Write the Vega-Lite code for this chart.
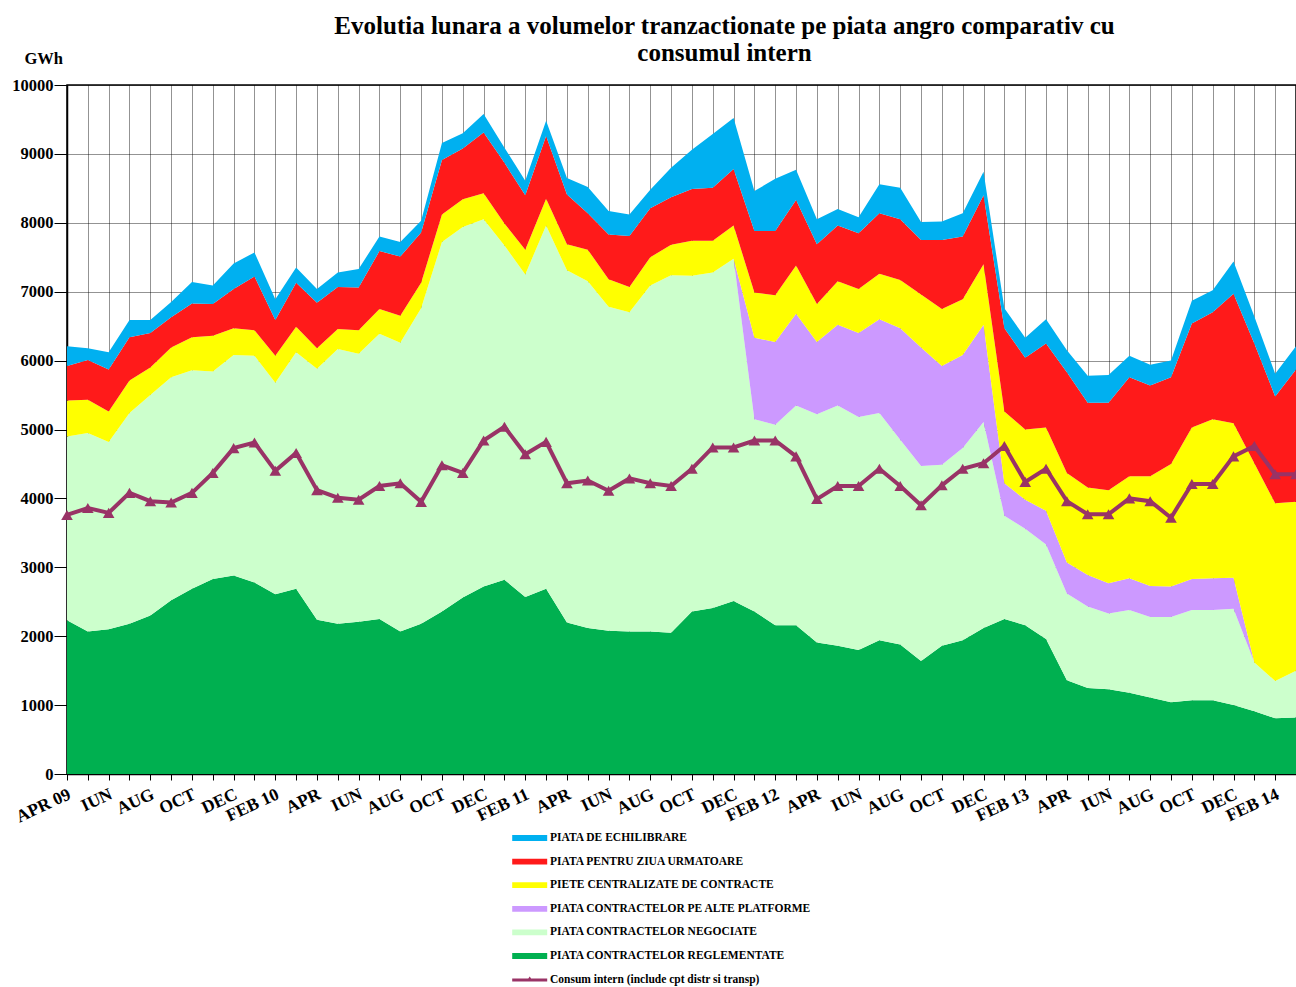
{
  "$schema": "https://vega.github.io/schema/vega-lite/v6.json",
  "width": 1229,
  "height": 689,
  "autosize": "none",
  "padding": {"left": 67, "top": 85, "right": 0, "bottom": 213},
  "background": "#ffffff",
  "title": {
    "text": ["Evolutia lunara a volumelor tranzactionate pe piata angro comparativ cu", "consumul intern"],
    "font": "Liberation Serif",
    "fontSize": 25,
    "fontWeight": "bold",
    "color": "#000000",
    "anchor": "middle",
    "dx": 43,
    "dy": 16,
    "lineHeight": 27.5,
    "baseline": "top",
    "offset": 0
  },
  "datasets": {
    "series": [
      {"key": "pe", "name": "PIATA DE ECHILIBRARE", "k": 6},
      {"key": "pzu", "name": "PIATA PENTRU ZIUA URMATOARE", "k": 5},
      {"key": "cen", "name": "PIETE CENTRALIZATE DE CONTRACTE", "k": 4},
      {"key": "alt", "name": "PIATA CONTRACTELOR PE ALTE PLATFORME", "k": 3},
      {"key": "neg", "name": "PIATA CONTRACTELOR NEGOCIATE", "k": 2},
      {"key": "reg", "name": "PIATA CONTRACTELOR REGLEMENTATE", "k": 1}
    ]
  },
  "data": {
    "values": [
      {"m": "2009-04", "reg": 2230, "neg": 2670, "alt": 0, "cen": 520, "pzu": 500, "pe": 290, "cons": 3760},
      {"m": "2009-05", "reg": 2070, "neg": 2880, "alt": 0, "cen": 480, "pzu": 580, "pe": 170, "cons": 3860},
      {"m": "2009-06", "reg": 2100, "neg": 2720, "alt": 0, "cen": 440, "pzu": 610, "pe": 250, "cons": 3790},
      {"m": "2009-07", "reg": 2180, "neg": 3060, "alt": 0, "cen": 470, "pzu": 630, "pe": 250, "cons": 4080},
      {"m": "2009-08", "reg": 2300, "neg": 3200, "alt": 0, "cen": 400, "pzu": 500, "pe": 190, "cons": 3960},
      {"m": "2009-09", "reg": 2520, "neg": 3240, "alt": 0, "cen": 430, "pzu": 440, "pe": 220, "cons": 3940},
      {"m": "2009-10", "reg": 2690, "neg": 3170, "alt": 0, "cen": 480, "pzu": 490, "pe": 310, "cons": 4080},
      {"m": "2009-11", "reg": 2830, "neg": 3010, "alt": 0, "cen": 520, "pzu": 460, "pe": 270, "cons": 4370},
      {"m": "2009-12", "reg": 2880, "neg": 3200, "alt": 0, "cen": 390, "pzu": 570, "pe": 370, "cons": 4730},
      {"m": "2010-01", "reg": 2780, "neg": 3290, "alt": 0, "cen": 370, "pzu": 780, "pe": 350, "cons": 4810},
      {"m": "2010-02", "reg": 2610, "neg": 3070, "alt": 0, "cen": 390, "pzu": 520, "pe": 300, "cons": 4400},
      {"m": "2010-03", "reg": 2690, "neg": 3430, "alt": 0, "cen": 370, "pzu": 640, "pe": 220, "cons": 4660},
      {"m": "2010-04", "reg": 2240, "neg": 3640, "alt": 0, "cen": 300, "pzu": 660, "pe": 200, "cons": 4120},
      {"m": "2010-05", "reg": 2180, "neg": 3990, "alt": 0, "cen": 290, "pzu": 610, "pe": 210, "cons": 4010},
      {"m": "2010-06", "reg": 2210, "neg": 3890, "alt": 0, "cen": 340, "pzu": 620, "pe": 270, "cons": 3980},
      {"m": "2010-07", "reg": 2250, "neg": 4140, "alt": 0, "cen": 360, "pzu": 840, "pe": 210, "cons": 4180},
      {"m": "2010-08", "reg": 2070, "neg": 4190, "alt": 0, "cen": 390, "pzu": 860, "pe": 210, "cons": 4220},
      {"m": "2010-09", "reg": 2180, "neg": 4580, "alt": 0, "cen": 370, "pzu": 730, "pe": 170, "cons": 3950},
      {"m": "2010-10", "reg": 2360, "neg": 5360, "alt": 0, "cen": 400, "pzu": 790, "pe": 250, "cons": 4480},
      {"m": "2010-11", "reg": 2560, "neg": 5380, "alt": 0, "cen": 400, "pzu": 740, "pe": 220, "cons": 4370},
      {"m": "2010-12", "reg": 2720, "neg": 5330, "alt": 0, "cen": 380, "pzu": 880, "pe": 270, "cons": 4840},
      {"m": "2011-01", "reg": 2820, "neg": 4850, "alt": 0, "cen": 320, "pzu": 880, "pe": 220, "cons": 5040},
      {"m": "2011-02", "reg": 2570, "neg": 4680, "alt": 0, "cen": 360, "pzu": 790, "pe": 210, "cons": 4640},
      {"m": "2011-03", "reg": 2690, "neg": 5270, "alt": 0, "cen": 390, "pzu": 910, "pe": 220, "cons": 4820},
      {"m": "2011-04", "reg": 2200, "neg": 5110, "alt": 0, "cen": 380, "pzu": 720, "pe": 240, "cons": 4220},
      {"m": "2011-05", "reg": 2120, "neg": 5030, "alt": 0, "cen": 460, "pzu": 530, "pe": 380, "cons": 4260},
      {"m": "2011-06", "reg": 2080, "neg": 4700, "alt": 0, "cen": 400, "pzu": 650, "pe": 340, "cons": 4110},
      {"m": "2011-07", "reg": 2070, "neg": 4630, "alt": 0, "cen": 370, "pzu": 740, "pe": 310, "cons": 4290},
      {"m": "2011-08", "reg": 2070, "neg": 5020, "alt": 0, "cen": 410, "pzu": 710, "pe": 270, "cons": 4220},
      {"m": "2011-09", "reg": 2050, "neg": 5190, "alt": 0, "cen": 440, "pzu": 690, "pe": 430, "cons": 4180},
      {"m": "2011-10", "reg": 2360, "neg": 4870, "alt": 0, "cen": 510, "pzu": 750, "pe": 570, "cons": 4430},
      {"m": "2011-11", "reg": 2410, "neg": 4870, "alt": 0, "cen": 460, "pzu": 770, "pe": 780, "cons": 4740},
      {"m": "2011-12", "reg": 2510, "neg": 4970, "alt": 0, "cen": 480, "pzu": 820, "pe": 740, "cons": 4740},
      {"m": "2012-01", "reg": 2360, "neg": 2790, "alt": 1180, "cen": 660, "pzu": 890, "pe": 580, "cons": 4840},
      {"m": "2012-02", "reg": 2160, "neg": 2910, "alt": 1200, "cen": 680, "pzu": 930, "pe": 760, "cons": 4840},
      {"m": "2012-03", "reg": 2160, "neg": 3190, "alt": 1330, "cen": 700, "pzu": 950, "pe": 440, "cons": 4610},
      {"m": "2012-04", "reg": 1910, "neg": 3310, "alt": 1050, "cen": 550, "pzu": 870, "pe": 360, "cons": 3990},
      {"m": "2012-05", "reg": 1860, "neg": 3490, "alt": 1170, "cen": 630, "pzu": 810, "pe": 240, "cons": 4180},
      {"m": "2012-06", "reg": 1800, "neg": 3380, "alt": 1220, "cen": 640, "pzu": 810, "pe": 230, "cons": 4180},
      {"m": "2012-07", "reg": 1940, "neg": 3300, "alt": 1360, "cen": 660, "pzu": 880, "pe": 420, "cons": 4430},
      {"m": "2012-08", "reg": 1880, "neg": 2970, "alt": 1620, "cen": 700, "pzu": 880, "pe": 460, "cons": 4180},
      {"m": "2012-09", "reg": 1640, "neg": 2830, "alt": 1720, "cen": 770, "pzu": 790, "pe": 260, "cons": 3900},
      {"m": "2012-10", "reg": 1860, "neg": 2630, "alt": 1430, "cen": 830, "pzu": 1000, "pe": 270, "cons": 4190},
      {"m": "2012-11", "reg": 1940, "neg": 2790, "alt": 1350, "cen": 810, "pzu": 910, "pe": 340, "cons": 4430},
      {"m": "2012-12", "reg": 2120, "neg": 2990, "alt": 1410, "cen": 880, "pzu": 1000, "pe": 340, "cons": 4510},
      {"m": "2013-01", "reg": 2250, "neg": 1500, "alt": 470, "cen": 1040, "pzu": 1210, "pe": 290, "cons": 4760},
      {"m": "2013-02", "reg": 2160, "neg": 1400, "alt": 420, "cen": 1020, "pzu": 1040, "pe": 290, "cons": 4240},
      {"m": "2013-03", "reg": 1960, "neg": 1370, "alt": 490, "cen": 1210, "pzu": 1220, "pe": 350, "cons": 4430},
      {"m": "2013-04", "reg": 1360, "neg": 1260, "alt": 450, "cen": 1300, "pzu": 1460, "pe": 320, "cons": 3960},
      {"m": "2013-05", "reg": 1250, "neg": 1180, "alt": 460, "cen": 1270, "pzu": 1230, "pe": 390, "cons": 3770},
      {"m": "2013-06", "reg": 1230, "neg": 1100, "alt": 440, "cen": 1350, "pzu": 1270, "pe": 400, "cons": 3770},
      {"m": "2013-07", "reg": 1180, "neg": 1200, "alt": 460, "cen": 1480, "pzu": 1440, "pe": 310, "cons": 4000},
      {"m": "2013-08", "reg": 1110, "neg": 1170, "alt": 450, "cen": 1590, "pzu": 1320, "pe": 300, "cons": 3960},
      {"m": "2013-09", "reg": 1040, "neg": 1240, "alt": 440, "cen": 1780, "pzu": 1260, "pe": 240, "cons": 3720},
      {"m": "2013-10", "reg": 1070, "neg": 1310, "alt": 450, "cen": 2200, "pzu": 1510, "pe": 330, "cons": 4210},
      {"m": "2013-11", "reg": 1070, "neg": 1310, "alt": 460, "cen": 2310, "pzu": 1550, "pe": 320, "cons": 4210},
      {"m": "2013-12", "reg": 1000, "neg": 1400, "alt": 450, "cen": 2240, "pzu": 1880, "pe": 470, "cons": 4610},
      {"m": "2014-01", "reg": 910, "neg": 710, "alt": 0, "cen": 2890, "pzu": 1740, "pe": 390, "cons": 4760},
      {"m": "2014-02", "reg": 810, "neg": 540, "alt": 0, "cen": 2580, "pzu": 1550, "pe": 330, "cons": 4350},
      {"m": "2014-03", "reg": 820, "neg": 680, "alt": 0, "cen": 2450, "pzu": 1920, "pe": 340, "cons": 4350}
    ]
  },
  "encoding": {
    "x": {
      "field": "m",
      "type": "ordinal",
      "scale": {"type": "point", "padding": 0},
      "axis": {
        "title": null,
        "labelExpr": "substring(datum.value,5,7)=='04' ? (datum.value=='2009-04' ? 'APR 09' : 'APR') : substring(datum.value,5,7)=='06' ? 'IUN' : substring(datum.value,5,7)=='08' ? 'AUG' : substring(datum.value,5,7)=='10' ? 'OCT' : substring(datum.value,5,7)=='12' ? 'DEC' : substring(datum.value,5,7)=='02' ? 'FEB ' + substring(datum.value,2,4) : ''",
        "labelAngle": -25,
        "labelAlign": "right",
        "labelBaseline": "top",
        "labelOverlap": false,
        "labelFont": "Liberation Serif",
        "labelFontSize": 17.5,
        "labelFontWeight": "bold",
        "labelColor": "#000000",
        "labelPadding": 5,
        "labelOffset": -1.5,
        "tickSize": 6,
        "tickColor": "#000000",
        "domainColor": "#000000",
        "domainWidth": 1.5,
        "grid": true,
        "gridColor": "#000000",
        "gridDash": [1, 1],
        "gridOpacity": 0.85
      }
    }
  },
  "layer": [
    {
      "transform": [
        {"fold": ["reg", "neg", "alt", "cen", "pzu", "pe"], "as": ["key", "v"]},
        {"lookup": "key", "from": {"data": {"name": "series"}, "key": "key", "fields": ["name", "k"]}}
      ],
      "mark": {"type": "area", "opacity": 1, "interpolate": "linear"},
      "encoding": {
        "y": {
          "field": "v",
          "type": "quantitative",
          "stack": "zero",
          "scale": {"domain": [0, 10000], "nice": false},
          "axis": {
            "title": "GWh",
            "titleAngle": 0,
            "titleX": -43,
            "titleY": -22,
            "titleAlign": "left",
            "titleBaseline": "alphabetic",
            "titleFont": "Liberation Serif",
            "titleFontSize": 16.5,
            "titleFontWeight": "bold",
            "titleColor": "#000000",
            "values": [0, 1000, 2000, 3000, 4000, 5000, 6000, 7000, 8000, 9000, 10000],
            "format": "d",
            "labelFont": "Liberation Serif",
            "labelFontSize": 16.5,
            "labelFontWeight": "bold",
            "labelColor": "#000000",
            "labelPadding": 1,
            "tickSize": 13,
            "tickColor": "#000000",
            "domainColor": "#000000",
            "domainWidth": 1.5,
            "grid": true,
            "gridColor": "#000000",
            "gridDash": [1, 1],
            "gridOpacity": 0.85
          }
        },
        "color": {
          "field": "name",
          "type": "nominal",
          "scale": {
            "domain": ["PIATA DE ECHILIBRARE", "PIATA PENTRU ZIUA URMATOARE", "PIETE CENTRALIZATE DE CONTRACTE", "PIATA CONTRACTELOR PE ALTE PLATFORME", "PIATA CONTRACTELOR NEGOCIATE", "PIATA CONTRACTELOR REGLEMENTATE"],
            "range": ["#00B0F0", "#FF1A1A", "#FFFF00", "#CC99FF", "#CCFFCC", "#00B050"]
          },
          "legend": {
            "title": null,
            "orient": "none",
            "legendX": 456.7,
            "legendY": 747,
            "padding": 0,
            "symbolType": "M-3,-0.5H3V0.5H-3Z",
            "symbolSize": 136,
            "symbolStrokeWidth": 0,
            "symbolOpacity": 1,
            "labelOffset": 14.3,
            "labelFont": "Liberation Serif",
            "labelFontSize": 11.5,
            "labelFontWeight": "bold",
            "labelColor": "#000000",
            "labelLimit": 400,
            "rowPadding": 11.6
          }
        },
        "order": {"field": "k", "type": "quantitative", "sort": "ascending"}
      }
    },
    {
      "mark": {"type": "line", "color": "#993366", "strokeWidth": 4},
      "encoding": {
        "y": {"field": "cons", "type": "quantitative"},
        "stroke": {
          "datum": "Consum intern (include cpt distr si transp)",
          "type": "nominal",
          "scale": {"range": ["#993366"]},
          "legend": {
            "title": null,
            "orient": "none",
            "legendX": 456.7,
            "legendY": 889,
            "padding": 0,
            "symbolType": "M-3,-0.25H3V0.25H-3Z M-0.6,0.25L0,-0.6L0.6,0.25Z",
            "symbolSize": 136,
            "symbolStrokeWidth": 0,
            "symbolFillColor": "#993366",
            "labelOffset": 14.3,
            "labelFont": "Liberation Serif",
            "labelFontSize": 11.5,
            "labelFontWeight": "bold",
            "labelColor": "#000000",
            "labelLimit": 400
          }
        }
      }
    },
    {
      "mark": {"type": "point", "shape": "triangle-up", "size": 135, "filled": true, "color": "#993366", "opacity": 1},
      "encoding": {
        "y": {"field": "cons", "type": "quantitative"}
      }
    }
  ],
  "config": {
    "view": {"stroke": "#000000", "strokeWidth": 1.5},
    "font": "Liberation Serif"
  }
}
